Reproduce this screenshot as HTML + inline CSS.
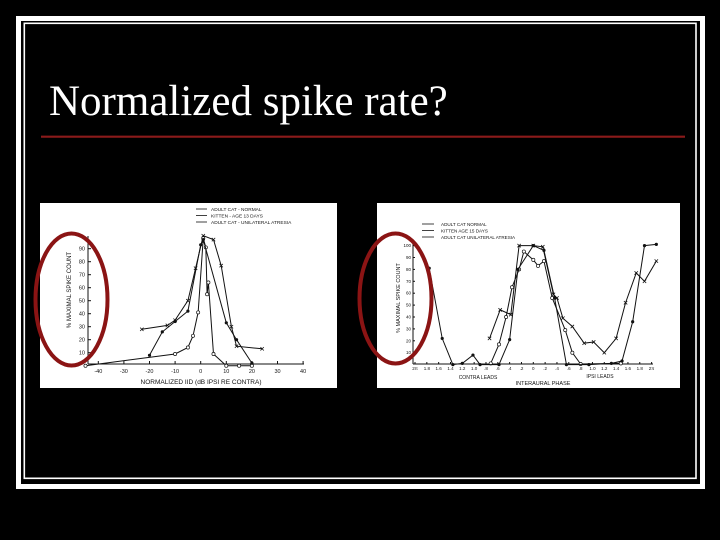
<!DOCTYPE html>
<html><head><meta charset="utf-8">
<style>
html,body{margin:0;padding:0;background:#000;}
svg{display:block;}
text{font-family:"Liberation Sans",sans-serif;fill:#111;}
</style></head>
<body>
<svg id="s" width="720" height="540" viewBox="0 0 720 540" xmlns="http://www.w3.org/2000/svg">
<rect x="0" y="0" width="720" height="540" fill="#000"/>
<rect x="18.5" y="18.5" width="684" height="468" fill="none" stroke="#fff" stroke-width="5"/>
<rect x="24.3" y="23.3" width="671.7" height="455" fill="none" stroke="#fff" stroke-width="1.6"/>
<text x="49" y="115" style="font-family:'Liberation Serif',serif;font-size:43px;fill:#fff">Normalized spike rate?</text>
<line x1="41" y1="136.7" x2="685" y2="136.7" stroke="#8b1a1a" stroke-width="2.2"/>
<rect x="40" y="203" width="297" height="185" fill="#fff"/>
<rect x="377" y="203" width="303" height="185" fill="#fff"/>
<g id="left"></g>
<g id="right"></g>
<ellipse cx="71.5" cy="299.5" rx="36" ry="66" fill="none" stroke="#8b1414" stroke-width="4"/>
<ellipse cx="395.5" cy="298.5" rx="36" ry="65" fill="none" stroke="#8b1414" stroke-width="4"/>
</svg>
<script>
// Left chart data
const leftTicksX = [-40,-30,-20,-10,0,10,20,30,40];
const leftTicksY = [10,20,30,40,50,60,70,80,90];
const leftNormalX = [-23,-13,-10,-5,-2,1,5,8,12,14,24];
const leftNormalY = [28,31,35,50,75,100,97,77,30,15,13];
const leftKittenX = [-45,-10,-5,-3,-1,1,2,2.5,3,5,10,15,20];
const leftKittenY = [0,9,14,23,41,98,91,55,64,9,0,0,0];
const leftAtresiaX = [-20,-15,-10,-5,0,1,10,14,20];
const leftAtresiaY = [8,26,34,42,93,97,33,20,2];
// Right chart data (x = phase index, -10 = 2pi contra .. 10 = 2pi ipsi)
const rightTickLabels = ["2π","1.8","1.6","1.4","1.2","1.0",".8",".6",".4",".2","0",".2",".4",".6",".8","1.0","1.2","1.4","1.6","1.8","2π"];
const rightTicksY = [10,20,30,40,50,60,70,80,90,100];
const rightNormalX = [-3.7,-2.8,-1.9,-1.2,0,0.8,1.7,2,2.5,3.3,4.3,5.1,6,7,7.8,8.7,9.4,10.4];
const rightNormalY = [22,46,42,100,100,99,59,56,39,32,18,19,10,22,52,77,70,87];
const rightKittenX = [-3.6,-2.9,-2.3,-1.8,-1.2,-0.8,0,0.4,0.9,1.6,2.7,3.3,4,7.4];
const rightKittenY = [1,17,40,65,80,95,88,83,87,56,29,10,0.5,1];
const rightAtresiaX = [-8.8,-7.7,-6.8,-6,-5.1,-4.5,-2.9,-2,-1.3,0,0.9,1.8,2.8,4.7,6.6,7.5,8.4,9.4,10.4];
const rightAtresiaY = [81,22,0,1,8,0,0,21,80,100,96,56,0,0,1,3,36,100,101];

const NS="http://www.w3.org/2000/svg";
function mk(tag,attrs,parent){const e=document.createElementNS(NS,tag);for(const k in attrs)e.setAttribute(k,attrs[k]);parent.appendChild(e);return e;}

// Left axes
const L=document.getElementById('left');
const lx=v=>200.7+v*2.56, ly=v=>365.7-v*1.3;
let e;
e=mk('line',{x1:88,y1:364,x2:304,y2:364,stroke:'#111','stroke-width':1},L);


e=mk('line',{x1:88,y1:236,x2:88,y2:364,stroke:'#111','stroke-width':1},L);


leftTicksX.forEach(t=>{
 mk('line',{x1:lx(t),y1:364,x2:lx(t),y2:361,stroke:'#111'},L);
 e=mk('text',{x:lx(t),y:373,'font-size':5.5,'text-anchor':'middle'},L);e.textContent=t;
 
 
});
leftTicksY.forEach(t=>{
 mk('line',{x1:88,y1:ly(t),x2:91,y2:ly(t),stroke:'#111'},L);
 e=mk('text',{x:85,y:ly(t)+2,'font-size':5.5,'text-anchor':'end'},L);e.textContent=t;
 
 
});
e=mk('text',{x:0,y:0,'font-size':6,'text-anchor':'middle',transform:'translate(71,290) rotate(-90)'},L);e.textContent='% MAXIMAL SPIKE COUNT';


e=mk('text',{x:201,y:384,'font-size':6.5,'text-anchor':'middle'},L);e.textContent='NORMALIZED IID (dB IPSI RE CONTRA)';


[['ADULT CAT - NORMAL','x'],['KITTEN - AGE 13 DAYS','o'],['ADULT CAT - UNILATERAL ATRESIA','d']].forEach((r,i)=>{
 const y=209+i*6.5;
 mk('line',{x1:196,y1:y,x2:207,y2:y,stroke:'#111','stroke-width':0.8},L);
 e=mk('text',{x:211,y:y+2,'font-size':4.8},L);e.textContent=r[0];
 
 
});
function series(G,xs,ys,fx,fy,mark,name){
 const pts=xs.map((x,i)=>fx(x)+','+fy(ys[i])).join(' ');
 const p=mk('polyline',{points:pts,fill:'none',stroke:'#111','stroke-width':1},G);
 
 
 xs.forEach((x,i)=>{
  const cx=fx(x),cy=fy(ys[i]);let m;
  if(mark==='o') m=mk('circle',{cx:cx,cy:cy,r:1.6,fill:'#fff',stroke:'#111','stroke-width':0.7},G);
  else if(mark==='d') m=mk('circle',{cx:cx,cy:cy,r:1.6,fill:'#111'},G);
  else m=mk('path',{d:`M${cx-1.7},${cy-1.7}L${cx+1.7},${cy+1.7}M${cx-1.7},${cy+1.7}L${cx+1.7},${cy-1.7}`,stroke:'#111','stroke-width':0.8},G);
  
  
 });
}
series(L,leftNormalX,leftNormalY,lx,ly,'x','left-normal-line');
series(L,leftKittenX,leftKittenY,lx,ly,'o','left-kitten-line');
series(L,leftAtresiaX,leftAtresiaY,lx,ly,'d','left-atresia-line');

// Right axes
const R=document.getElementById('right');
const rx=v=>533.3+v*11.83, ry=v=>364.6-v*1.19;
e=mk('line',{x1:413,y1:364,x2:653,y2:364,stroke:'#111','stroke-width':1},R);


e=mk('line',{x1:413,y1:244,x2:413,y2:364,stroke:'#111','stroke-width':1},R);


rightTickLabels.forEach((t,i)=>{
 const x=rx(i-10);
 mk('line',{x1:x,y1:364,x2:x,y2:362,stroke:'#111'},R);
 e=mk('text',{x:x,y:370,'font-size':4.5,'text-anchor':'middle'},R);e.textContent=t;
 
 
});
rightTicksY.forEach(t=>{
 mk('line',{x1:413,y1:ry(t),x2:415,y2:ry(t),stroke:'#111'},R);
 e=mk('text',{x:411,y:ry(t)+1.5,'font-size':4.5,'text-anchor':'end'},R);e.textContent=t;
 
 
});
e=mk('text',{x:0,y:0,'font-size':5.5,'text-anchor':'middle',transform:'translate(400,298) rotate(-90)'},R);e.textContent='% MAXIMAL SPIKE COUNT';


e=mk('text',{x:478,y:379,'font-size':5,'text-anchor':'middle'},R);e.textContent='CONTRA LEADS';


e=mk('text',{x:600,y:378,'font-size':5,'text-anchor':'middle'},R);e.textContent='IPSI LEADS';


e=mk('text',{x:543,y:385,'font-size':5.5,'text-anchor':'middle'},R);e.textContent='INTERAURAL   PHASE';


[['ADULT CAT NORMAL'],['KITTEN AGE 15 DAYS'],['ADULT CAT UNILATERAL ATRESIA']].forEach((r,i)=>{
 const y=224+i*6.5;
 mk('line',{x1:422,y1:y,x2:434,y2:y,stroke:'#111','stroke-width':0.8},R);
 e=mk('text',{x:441,y:y+2,'font-size':4.6},R);e.textContent=r[0];
 
 
});
series(R,rightNormalX,rightNormalY,rx,ry,'x','right-normal-line');
series(R,rightKittenX,rightKittenY,rx,ry,'o','right-kitten-line');
series(R,rightAtresiaX,rightAtresiaY,rx,ry,'d','right-atresia-line');
</script>
</body></html>
